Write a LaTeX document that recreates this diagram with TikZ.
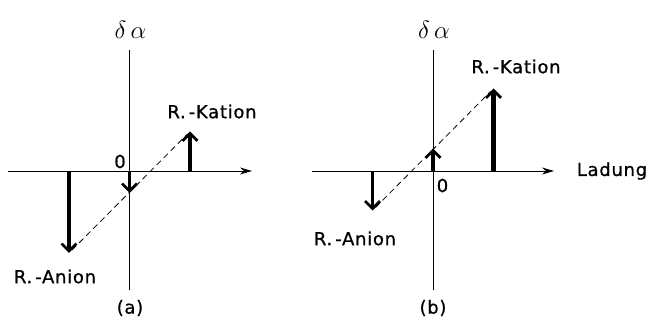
\documentclass[tikz,border=0pt]{standalone}
\usepackage{fontspec}
\setmainfont{DejaVu Sans}
\newfontfamily\labelfont{DejaVu Sans}[FakeBold=0.8, LetterSpace=4]
\usepackage{tikz}
\usetikzlibrary{arrows.meta, calc}
\usepackage{amsmath}

\tikzset{
    lbl/.style={font=\labelfont\fontsize{18}{22}\selectfont, inner sep=0pt},
    axis/.style={line width=0.9pt, -{Stealth[length=12pt, width=7pt]}},
    vaxis/.style={line width=0.9pt},
    shiftarrow/.style={line width=#1, -{Straight Barb[length=7.5pt, width=15pt, line width=2.8pt]}},
    slope/.style={dashed, dash pattern=on 6pt off 4pt, line width=0.8pt},
}

\begin{document}
\begin{tikzpicture}[x=1pt, y=1pt]
    \useasboundingbox (0,0) rectangle (648,324);

    % Panel (a)
    \begin{scope}[shift={(129.5,153)}]
        % Coordinate system
        \coordinate (aL) at (-121.5,0);
        \coordinate (aR) at (122.5,0);
        \coordinate (aB) at (0,-119);
        \coordinate (aT) at (0,121);
        \draw[axis] (aL) -- (aR);
        \draw[vaxis] (aB) -- (aT);
        \node[lbl, font=\fontsize{25}{28}\selectfont] (aDa) at (1,141) {$\delta\,\alpha$};
        \node[lbl] (aZero) at (-9.5,9.5) {0};

        % Shifts
        \coordinate (aAn0) at (-60.5,0);
        \coordinate (aAn) at (-60.5,-82);
        \coordinate (aMi0) at (0,0);
        \coordinate (aMi) at (0,-22);
        \coordinate (aKa0) at (60.5,0);
        \coordinate (aKa) at (60.5,39.5);
        \draw[shiftarrow=3.8pt] (aAn0) -- (aAn);
        \draw[shiftarrow=3.2pt] (aMi0) -- (aMi);
        \draw[shiftarrow=3.2pt] (aKa0) -- (aKa);

        % Dashed line
        \draw[slope] ($(aAn)+(3,3)$) -- ($(aKa)+(-3,-3)$);

        % Labels
        \node[lbl] (aKat) at (82.5,59.5) {R.\,-Kation};
        \node[lbl] (aAni) at (-74.5,-105.5) {R.\,-Anion};
        \node[lbl] (aCap) at (0.5,-137) {(a)};
    \end{scope}

    % Panel (b)
    \begin{scope}[shift={(433,153)}]
        % Coordinate system
        \coordinate (bL) at (-121,0);
        \coordinate (bR) at (121,0);
        \coordinate (bB) at (0,-119);
        \coordinate (bT) at (0,121);
        \draw[axis] (bL) -- (bR);
        \draw[vaxis] (bB) -- (bT);
        \node[lbl, font=\fontsize{25}{28}\selectfont] (bDa) at (1,141) {$\delta\,\alpha$};
        \node[lbl] (bZero) at (9.5,-14.5) {0};
        \node[lbl] (bLad) at (179,0) {Ladung};

        % Shifts
        \coordinate (bAn0) at (-60.5,0);
        \coordinate (bAn) at (-60.5,-39.5);
        \coordinate (bMi0) at (0,0);
        \coordinate (bMi) at (0,22.5);
        \coordinate (bKa0) at (60.5,0);
        \coordinate (bKa) at (60.5,82.5);
        \draw[shiftarrow=3.2pt] (bAn0) -- (bAn);
        \draw[shiftarrow=3.2pt] (bMi0) -- (bMi);
        \draw[shiftarrow=4.2pt] (bKa0) -- (bKa);

        % Dashed line
        \draw[slope] ($(bAn)+(3,3)$) -- ($(bKa)+(-3,-3)$);

        % Labels
        \node[lbl] (bKat) at (83,104.5) {R.\,-Kation};
        \node[lbl] (bAni) at (-78,-67.5) {R.\,-Anion};
        \node[lbl] (bCap) at (0,-137) {(b)};
    \end{scope}
\end{tikzpicture}
\end{document}
